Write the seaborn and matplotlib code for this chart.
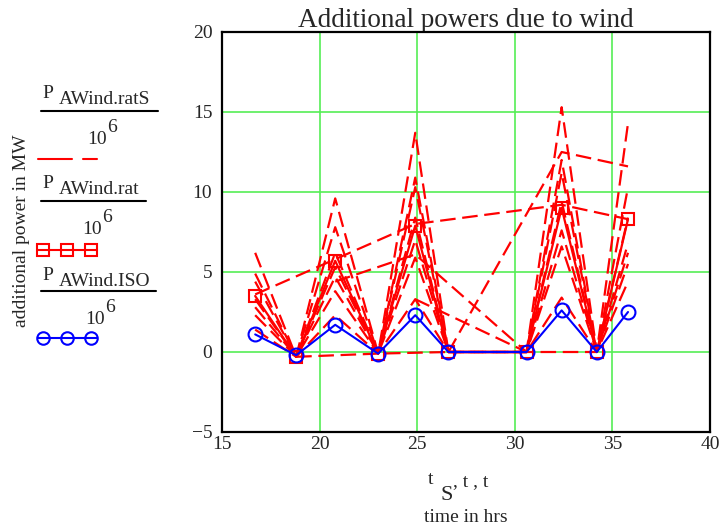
import matplotlib
matplotlib.use("Agg")
import matplotlib.pyplot as plt
import seaborn as sns

# time axis (hrs) and the two marked series
t_hrs = [16.7, 18.8, 20.8, 23.0, 24.9, 26.6, 30.6, 32.4, 34.2, 35.8]
P_rat = [3.5, -0.3, 5.7, -0.1, 7.9, 0.0, 0.0, 9.0, 0.0, 8.3]
P_iso = [1.1, -0.2, 1.7, -0.1, 2.3, 0.0, 0.0, 2.6, 0.0, 2.5]

# columns of P_AWind.ratS (MW) against t_S
ratS_1 = [1.4, -0.3, 2.3, -0.1, 3.3, 0.0, 0.0, 3.4, 0.0, 4.4]
ratS_2 = [2.8, -0.3, 4.7, -0.1, 5.9, 0.0, 0.0, 6.6, 0.0, 6.2]
ratS_3 = [3.3, -0.3, 5.3, -0.1, 8.4, 0.0, 0.0, 9.4, 0.0, 6.8]
ratS_4 = [4.4, -0.3, 6.2, -0.1, 10.3, 0.0, 0.0, 11.2, 0.0, 8.4]
ratS_5 = [4.9, -0.3, 7.8, -0.1, 10.9, 0.0, 0.0, 12.0, 0.0, 10.3]
ratS_6 = [6.2, -0.3, 9.6, -0.1, 13.7, 0.0, 0.0, 15.3, 0.0, 14.3]
ratS_7 = [2.3, -0.3, 3.8, -0.1, 7.0, 0.0, 0.0, 7.6, 0.0, 5.5]

# columns where t_S is ordered differently (cross links)
link_t_1 = [16.7, 20.8, 24.9, 32.4, 35.8]
link_p_1 = [3.6, 5.8, 8.0, 9.2, 8.3]
link_t_2 = [18.8, 23.0, 26.6, 30.6, 34.2]
link_p_2 = [-0.3, -0.1, 0.0, 0.0, 0.0]
link_t_3 = [20.8, 24.9, 30.6]
link_p_3 = [4.4, 6.1, 0.0]
link_t_4 = [26.6, 32.4, 35.8]
link_p_4 = [0.0, 12.5, 11.6]
link_t_5 = [24.9, 30.6]
link_p_5 = [3.3, 0.0]

x_ticks = [15, 20, 25, 30, 35, 40]
y_ticks = [-5, 0, 5, 10, 15, 20]

RED = "#ff0000"
BLUE = "#0000ff"
GRID = "#55ee55"
DASH = (0, (7, 3))

sns.set_theme(style="white")
plt.rcParams["font.family"] = ["Liberation Serif", "DejaVu Serif"]

fig = plt.figure(figsize=(7.22, 5.28), dpi=100)
ax = fig.add_axes([222 / 722, 96 / 528, 488 / 722, 400 / 528])

# dashed P_AWind.ratS columns
for col in [ratS_1, ratS_2, ratS_3, ratS_4, ratS_5, ratS_6, ratS_7]:
    sns.lineplot(x=t_hrs, y=col, sort=False, color=RED, lw=1.6,
                 linestyle=DASH, ax=ax)
for xs, ys in [(link_t_1, link_p_1), (link_t_2, link_p_2), (link_t_3, link_p_3),
               (link_t_4, link_p_4), (link_t_5, link_p_5)]:
    sns.lineplot(x=xs, y=ys, sort=False, color=RED, lw=1.6,
                 linestyle=DASH, ax=ax)

sns.lineplot(x=t_hrs, y=P_rat, sort=False, color=RED, lw=1.6, marker="s",
             markersize=9, markerfacecolor="none", markeredgecolor=RED,
             markeredgewidth=1.5, ax=ax)
sns.lineplot(x=t_hrs, y=P_iso, sort=False, color=BLUE, lw=1.5, marker="o",
             markersize=10, markerfacecolor="none", markeredgecolor=BLUE,
             markeredgewidth=1.5, ax=ax)

ax.set_xlim(15, 40)
ax.set_ylim(-5, 20)
ax.set_xticks(x_ticks)
ax.set_yticks(y_ticks)
ax.grid(True, color=GRID, lw=1.2)
ax.set_axisbelow(True)
ax.tick_params(length=0, labelsize=14)
ax.tick_params(axis="x", pad=3)
ax.tick_params(axis="y", pad=7)
for s in ax.spines.values():
    s.set_color("black")
    s.set_linewidth(1.6)
ax.set_xlabel("")
ax.set_ylabel("")

# overlay in pixel coords for title, labels and the Mathcad-style legend
lax = fig.add_axes([0, 0, 1, 1], zorder=-1)
lax.set_xlim(0, 722)
lax.set_ylim(528, 0)
lax.axis("off")

lax.text(466, 27, "Additional powers due to wind", fontsize=19.5,
         ha="center", va="baseline")
lax.text(22, 231, "additional power in MW", fontsize=14, rotation=90,
         ha="center", va="center")

lax.text(428, 480, "t", fontsize=14, va="center")
lax.text(441, 495, "S", fontsize=16, va="center")
lax.text(453, 482, ", t , t", fontsize=14, va="center")
lax.text(466, 518, "time in hrs", fontsize=14, ha="center", va="center")

legend_rows = [
    ("AWind.ratS", 94, 111, 158, 139, 87),
    ("AWind.rat", 184, 201, 146, 229, 82),
    ("AWind.ISO", 276, 291, 156, 319, 85),
]
for sub, yp, yline, xend, y10, x10 in legend_rows:
    lax.text(42, yp, "P", fontsize=14, va="center")
    lax.text(59, yp + 5, sub, fontsize=14, va="center")
    lax.plot([41, xend], [yline, yline], color="black", lw=1.5)
    lax.text(x10, y10, "10", fontsize=14, va="center")
    lax.text(x10 + 20, y10 - 12, "6", fontsize=14, va="center")

lax.plot([38, 72], [159, 159], color=RED, lw=1.5)
lax.plot([83, 97], [159, 159], color=RED, lw=1.5)
lax.plot([38, 97], [250, 250], color=RED, lw=1.5)
lax.plot([43, 67, 91], [250, 250, 250], ls="none", marker="s", markersize=8,
         mfc="none", mec=RED, mew=1.5)
lax.plot([38, 97], [338, 338], color=BLUE, lw=1.5)
lax.plot([43, 67, 91], [338, 338, 338], ls="none", marker="o", markersize=9,
         mfc="none", mec=BLUE, mew=1.5)

fig.savefig("out.png", dpi=100)
